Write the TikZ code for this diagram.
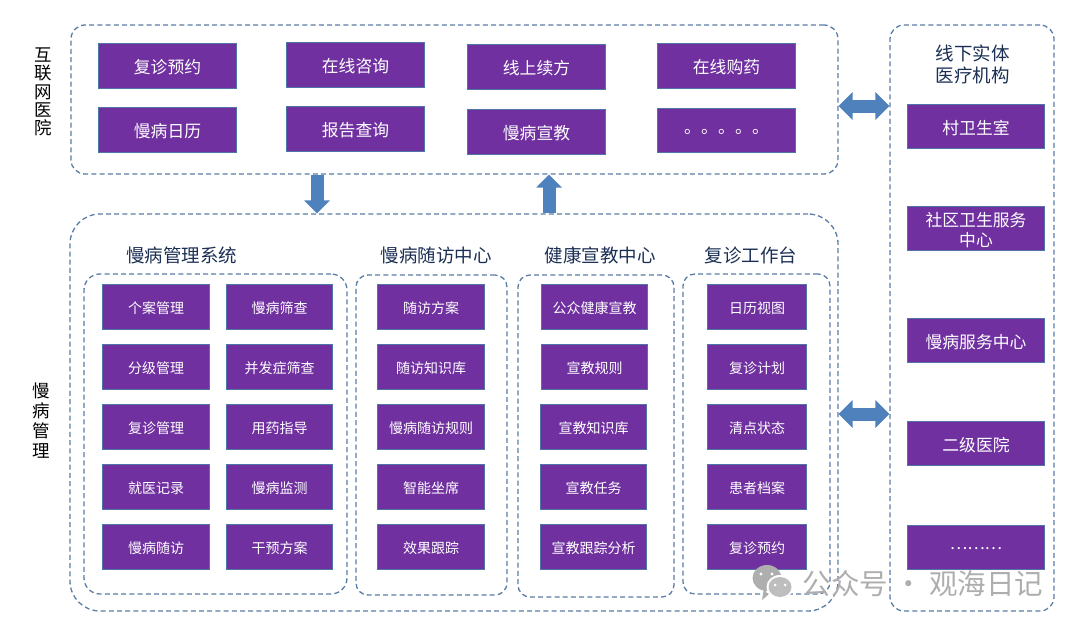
\documentclass[tikz,border=0pt]{standalone}
\usepackage{fontspec}
\setmainfont{Noto Sans CJK SC}
\usetikzlibrary{arrows.meta}
\definecolor{boxfill}{HTML}{7030A0}
\definecolor{boxline}{HTML}{4F74A8}
\definecolor{dashline}{HTML}{5A7DA5}
\definecolor{blockblue}{HTML}{4F81BD}
\definecolor{titlenavy}{HTML}{1B2F55}
\definecolor{wmgray}{HTML}{AEAEAE}
\newcommand\fsb[2]{\fontsize{#1pt}{#2pt}\selectfont}
\newcommand\pbox[7][]{\node[#2,#1,minimum width={(#5-#3)*1pt},minimum height={(#6-#4)*1pt}] at ({(#3+#5)/2},{(#4+#6)/2}) {#7};}
% \tbox{font size}{name}{x1}{y1}{x2}{y2}{text}
\newcommand\tbox[7]{%
  \node[purplebox,minimum width={(#5-#3-0.8)*1pt},minimum height={(#6-#4-0.8)*1pt}] (#2) at ({(#3+#5)/2},{(#4+#6)/2}) {};
  \node[boxtext,font=\fsb{#1}{20.5}] (#2t) at ([yshift=-1.4pt]#2.center) {#7};}
\tikzset{
  purplebox/.style={draw=boxline,line width=0.8pt,fill=boxfill,inner sep=0pt},
  boxtext/.style={text=white,inner sep=0pt,align=center},
  groupbox/.style={draw=dashline,line width=1.3pt,dash pattern=on 5pt off 3.2pt,inner sep=0pt},
  grouptitle/.style={text=titlenavy,inner sep=0pt,align=center},
  sidelabel/.style={text=black,inner sep=0pt,align=center},
  blockarrow/.style={blockblue,line width=13pt,-{Triangle[width=25pt,length=13pt]}},
  dblarrow/.style={blockblue,line width=13pt,{Triangle[width=27pt,length=14pt]}-{Triangle[width=27pt,length=14pt]}},
}
\begin{document}
\begin{tikzpicture}[x=1pt,y=-1pt]
\useasboundingbox (0,0) rectangle (1080,629);
% groups
\pbox[name=gnet,rounded corners=14pt]{groupbox}{71}{25}{838}{174}{}
\pbox[name=gchronic,rounded corners=30pt]{groupbox}{70}{214}{838}{611}{}
\pbox[name=gright,rounded corners=14pt]{groupbox}{890}{25}{1054}{611}{}
\pbox[name=gsys,rounded corners=16pt]{groupbox}{84}{274}{347}{594}{}
\pbox[name=gfol,rounded corners=12pt]{groupbox}{356}{275}{507}{595}{}
\pbox[name=gedu,rounded corners=12pt]{groupbox}{518}{275}{674}{597}{}
\pbox[name=gwork,rounded corners=12pt]{groupbox}{683}{274}{830}{594}{}
% side labels
\node[sidelabel,font=\fsb{17.5}{18.3}] (lnet) at (43,92) {互\\联\\网\\医\\院};
\node[sidelabel,font=\fsb{17.5}{20}] (lchr) at (41,421) {慢\\病\\管\\理};
% titles
\node[grouptitle,font=\fsb{18.5}{22}] (tsys) at (181.5,255.5) {慢病管理系统};
\node[grouptitle,font=\fsb{18.5}{22}] (tfol) at (436,255.5) {慢病随访中心};
\node[grouptitle,font=\fsb{18.5}{22}] (tedu) at (600,255.5) {健康宣教中心};
\node[grouptitle,font=\fsb{18.5}{22}] (twork) at (751,255.5) {复诊工作台};
\node[grouptitle,font=\fsb{18.5}{22}] (tright) at (972.5,64) {线下实体\\医疗机构};
% internet hospital
\tbox{16.8}{n11}{98}{43}{237}{89}{复诊预约}
\tbox{16.8}{n12}{286}{42}{425}{88}{在线咨询}
\tbox{16.8}{n13}{467}{44}{606}{90}{线上续方}
\tbox{16.8}{n14}{657}{43}{796}{89}{在线购药}
\tbox{16.8}{n21}{98}{107}{237}{153}{慢病日历}
\tbox{16.8}{n22}{286}{106}{425}{152}{报告查询}
\tbox{16.8}{n23}{467}{109}{606}{155}{慢病宣教}
\tbox{17}{n24}{657}{108}{796}{153}{\raisebox{-3pt}{。。。。。}}
% system
\tbox{14}{a1}{102}{284}{210}{330}{个案管理}
\tbox{14}{b1}{226}{284}{333}{330}{慢病筛查}
\tbox{14}{a2}{102}{344}{210}{390}{分级管理}
\tbox{14}{b2}{226}{344}{333}{390}{并发症筛查}
\tbox{14}{a3}{102}{404}{210}{450}{复诊管理}
\tbox{14}{b3}{226}{404}{333}{450}{用药指导}
\tbox{14}{a4}{102}{464}{210}{510}{就医记录}
\tbox{14}{b4}{226}{464}{333}{510}{慢病监测}
\tbox{14}{a5}{102}{524}{210}{570}{慢病随访}
\tbox{14}{b5}{226}{524}{333}{570}{干预方案}
% follow-up
\tbox{14}{c1}{377}{284}{485}{330}{随访方案}
\tbox{14}{c2}{377}{344}{485}{390}{随访知识库}
\tbox{14}{c3}{377}{404}{485}{450}{慢病随访规则}
\tbox{14}{c4}{377}{464}{485}{510}{智能坐席}
\tbox{14}{c5}{377}{524}{485}{570}{效果跟踪}
% education
\tbox{14}{d1}{541}{284}{648}{330}{公众健康宣教}
\tbox{14}{d2}{541}{344}{648}{390}{宣教规则}
\tbox{14}{d3}{540}{404}{647}{450}{宣教知识库}
\tbox{14}{d4}{540}{464}{647}{510}{宣教任务}
\tbox{14}{d5}{540}{524}{647}{570}{宣教跟踪分析}
% workbench
\tbox{14}{e1}{707}{284}{807}{330}{日历视图}
\tbox{14}{e2}{707}{344}{807}{390}{复诊计划}
\tbox{14}{e3}{707}{404}{807}{450}{清点状态}
\tbox{14}{e4}{707}{464}{807}{510}{患者档案}
\tbox{14}{e5}{707}{524}{807}{570}{复诊预约}
% offline
\tbox{16.8}{r1}{907}{104}{1045}{149}{村卫生室}
\tbox{16.8}{r2}{907}{206}{1045}{251}{社区卫生服务\\中心}
\tbox{16.8}{r3}{907}{318}{1045}{363}{慢病服务中心}
\tbox{16.8}{r4}{907}{421}{1045}{466}{二级医院}
\tbox{16.5}{r5}{907}{525}{1045}{570}{………}
% block arrows
\coordinate (downA) at (gnet.south -| 317,0);
\coordinate (downB) at (gchronic.north -| 317,0);
\coordinate (upA) at (gchronic.north -| 549,0);
\coordinate (upB) at (gnet.south -| 549,0);
\draw[blockarrow] (downA) -- (downB);
\draw[blockarrow] (upA) -- (upB);
\coordinate (h1a) at (gnet.east |- 0,106);
\coordinate (h1b) at (gright.west |- 0,106);
\coordinate (h2a) at (gchronic.east |- 0,414);
\coordinate (h2b) at (gright.west |- 0,414);
\draw[dblarrow] (h1a) -- (h1b);
\draw[dblarrow] (h2a) -- (h2b);
% watermark
\fill[wmgray] (767,578) ellipse (14.5pt and 13pt);
\fill[wmgray] (768,595) -- (762,600) -- (764,588) -- cycle;
\fill[white] (780,587) ellipse (13.5pt and 12pt);
\fill[wmgray!80] (780,587) ellipse (11.5pt and 10pt);
\fill[white] (775,585) circle (1.5pt) (785,585) circle (1.5pt) (761,574) circle (1.6pt) (772,574) circle (1.6pt);
\node[text=wmgray,inner sep=0pt,font=\fsb{28.5}{30}] (wm) at (923,583.5) {公众号 · 观海日记};
\end{tikzpicture}
\end{document}
